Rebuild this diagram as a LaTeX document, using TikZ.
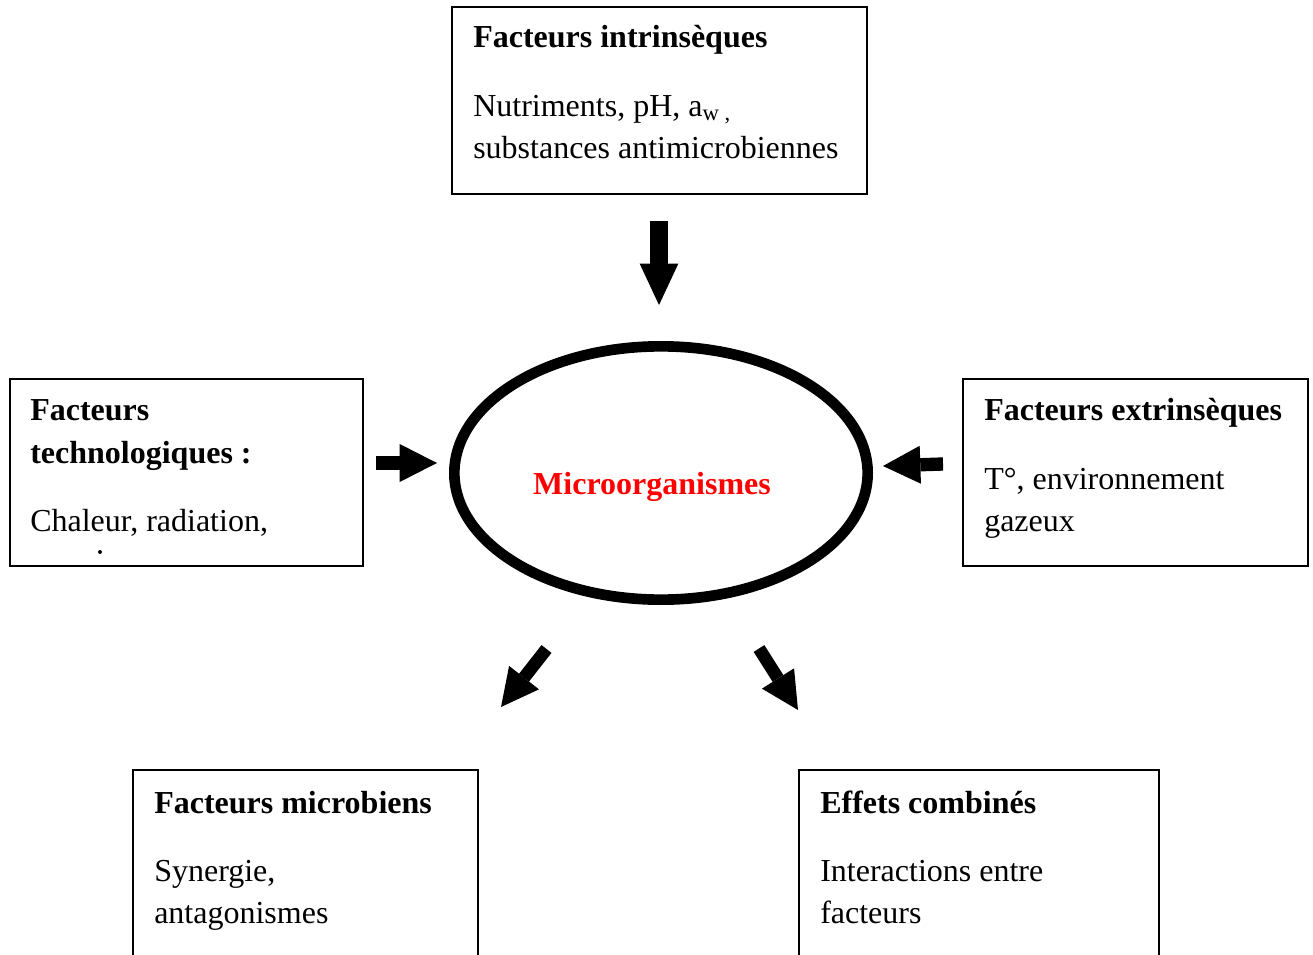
\documentclass[tikz,border=0pt]{standalone}
\usepackage{fontspec}
\setmainfont{Liberation Serif}
\usetikzlibrary{arrows.meta,shapes.geometric,fit}
\begin{document}
\begin{tikzpicture}[x=0.75pt,y=-0.75pt,
  box/.style={draw=black,line width=1.5pt,inner sep=0pt},
  txt/.style={anchor=base west,inner sep=0pt,font=\fontsize{24pt}{31pt}\selectfont},
  ttl/.style={txt,font=\fontsize{24pt}{31pt}\selectfont\bfseries},
  blockarrow/.style={line width=#1,-{Triangle[length=28pt,width=28.5pt,line width=0pt]}},
]
\useasboundingbox (0,0) rectangle (1313,955);
\clip (0,0) rectangle (1313,955);

% boxes
\node[box,fit={(452,7) (867,194)}] (intr) {};
\node[box,fit={(10,379) (363,566)}] (techn) {};
\node[box,fit={(963,379) (1308,566)}] (extr) {};
\node[box,fit={(133,770) (478,990)}] (micr) {};
\node[box,fit={(799,770) (1159,990)}] (comb) {};

% ellipse
\node[ellipse,draw=black,line width=8pt,minimum width=310pt,minimum height=190pt,inner sep=0pt] (micro) at (661,473) {};
\node[anchor=base,inner sep=0pt,text=red,font=\fontsize{24pt}{31pt}\selectfont\bfseries] (microtxt) at (652,494) {Microorganismes};

% top box text
\node[ttl] (intrA) at (473,48) {Facteurs intrinsèques};
\node[txt] (intrB) at (473,117) {Nutriments, pH, a\raisebox{-3pt}{\fontsize{17pt}{17pt}\selectfont w ,}};
\node[txt] (intrC) at (473,159) {substances antimicrobiennes};

% left box text
\node[ttl] (technA) at (30,421) {Facteurs};
\node[ttl] (technB) at (30,463) {technologiques :};
\node[txt] (technC) at (30,531) {Chaleur, radiation,};
\fill (100,552) circle [radius=2];

% right box text
\node[ttl] (extrA) at (984,421) {Facteurs extrinsèques};
\node[txt] (extrB) at (984,489) {T°, environnement};
\node[txt] (extrC) at (984,531) {gazeux};

% bottom left text
\node[ttl] (micrA) at (154,813) {Facteurs microbiens};
\node[txt] (micrB) at (154,881) {Synergie,};
\node[txt] (micrC) at (154,923) {antagonismes};

% bottom right text
\node[ttl] (combA) at (820,813) {Effets combinés};
\node[txt] (combB) at (820,881) {Interactions entre};
\node[txt] (combC) at (820,923) {facteurs};

% arrow coordinates
\coordinate (dS) at (659,221);  \coordinate (dE) at (659,305);
\coordinate (lS) at (376,463);  \coordinate (lE) at (437,463);
\coordinate (rS) at (943,464);  \coordinate (rE) at (883,466);
\coordinate (blS) at (546.5,649); \coordinate (blE) at (501,707);
\coordinate (brS) at (759,648.5); \coordinate (brE) at (798,710);

\draw[line width=14pt,-{Triangle[length=31pt,width=29pt,line width=0pt]}] (dS) -- (dE);
\draw[blockarrow=10.5pt] (lS) -- (lE);
\draw[blockarrow=10pt] (rS) -- (rE);
\draw[blockarrow=9.5pt] (blS) -- (blE);
\draw[blockarrow=9.5pt] (brS) -- (brE);
\end{tikzpicture}
\end{document}
